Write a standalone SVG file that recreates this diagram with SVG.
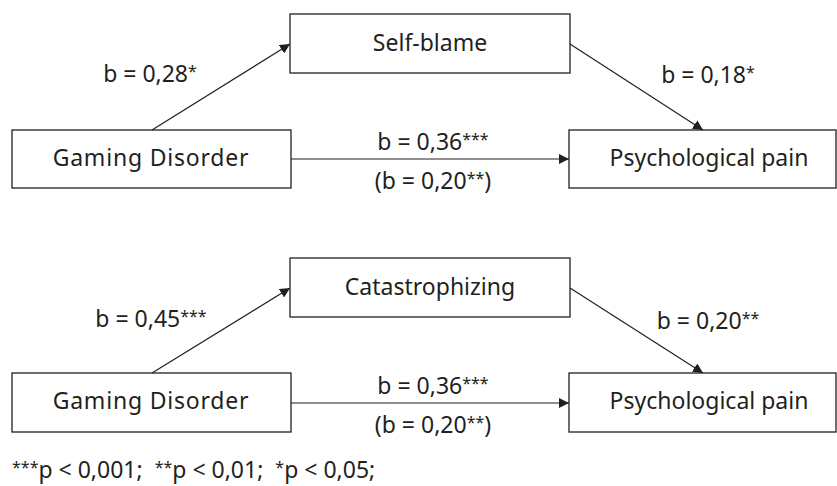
<svg xmlns="http://www.w3.org/2000/svg" width="837" height="486" viewBox="0 0 837 486">
<style>
.box{fill:#fff;stroke:#231f20;stroke-width:1.3}
.t{font-family:"Noto Sans","Open Sans",sans-serif;font-size:23px;fill:#231f20;text-anchor:middle}
.g{letter-spacing:0.8px}
.l{font-family:"Noto Sans","Open Sans",sans-serif;font-size:23px;fill:#231f20;text-anchor:middle;white-space:pre}
.s{font-size:16px}
.c{stroke:#231f20;stroke-width:1.2;fill:none;marker-end:url(#a)}
</style>
<defs>
<marker id="a" viewBox="0 0 10 10" refX="10" refY="5" markerWidth="10" markerHeight="10" markerUnits="userSpaceOnUse" orient="auto">
<path d="M0,0 L10,5 L0,10 Z" fill="#231f20"/>
</marker>
</defs>
<g id="top-selfblame"><rect class="box" x="290" y="14" width="280" height="59"/><text class="t" x="430" y="51">Self-blame</text></g>
<g id="top-gaming"><rect class="box" x="12" y="130" width="279" height="58"/><text class="t g" x="151" y="166">Gaming Disorder</text></g>
<g id="top-pain"><rect class="box" x="569" y="130" width="267" height="58"/><text class="t" x="709" y="166">Psychological pain</text></g>
<g id="bot-catas"><rect class="box" x="290" y="258" width="280" height="59"/><text class="t" x="430" y="295">Catastrophizing</text></g>
<g id="bot-gaming"><rect class="box" x="12" y="373" width="279" height="59"/><text class="t g" x="151" y="409">Gaming Disorder</text></g>
<g id="bot-pain"><rect class="box" x="569" y="373" width="267" height="59"/><text class="t" x="709" y="409">Psychological pain</text></g>
<g id="connectors">
<line class="c" x1="152" y1="130" x2="290" y2="44"/>
<line class="c" x1="570" y1="44" x2="703" y2="130"/>
<line class="c" x1="291" y1="159" x2="569" y2="159"/>
<line class="c" x1="152" y1="373" x2="290" y2="288"/>
<line class="c" x1="570" y1="288" x2="703" y2="373"/>
<line class="c" x1="291" y1="403" x2="569" y2="403"/>
</g>
<g id="labels">
<text class="l" x="150" y="82">b = 0,28<tspan class="s" dy="-5">*</tspan></text>
<text class="l" x="708" y="83">b = 0,18<tspan class="s" dy="-5">*</tspan></text>
<text class="l" x="433" y="150">b = 0,36<tspan class="s" dy="-5">***</tspan></text>
<text class="l" x="433" y="189">(b = 0,20<tspan class="s" dy="-5">**</tspan><tspan dy="5">)</tspan></text>
<text class="l" x="151" y="327">b = 0,45<tspan class="s" dy="-5">***</tspan></text>
<text class="l" x="708" y="329">b = 0,20<tspan class="s" dy="-5">**</tspan></text>
<text class="l" x="433" y="394">b = 0,36<tspan class="s" dy="-5">***</tspan></text>
<text class="l" x="433" y="433">(b = 0,20<tspan class="s" dy="-5">**</tspan><tspan dy="5">)</tspan></text>
<text class="l" x="12" y="478" style="text-anchor:start"><tspan class="s" dy="-5">***</tspan><tspan dy="5">p &lt; 0,001;  </tspan><tspan class="s" dy="-5">**</tspan><tspan dy="5">p &lt; 0,01;  </tspan><tspan class="s" dy="-5">*</tspan><tspan dy="5">p &lt; 0,05;</tspan></text>
</g>
</svg>
